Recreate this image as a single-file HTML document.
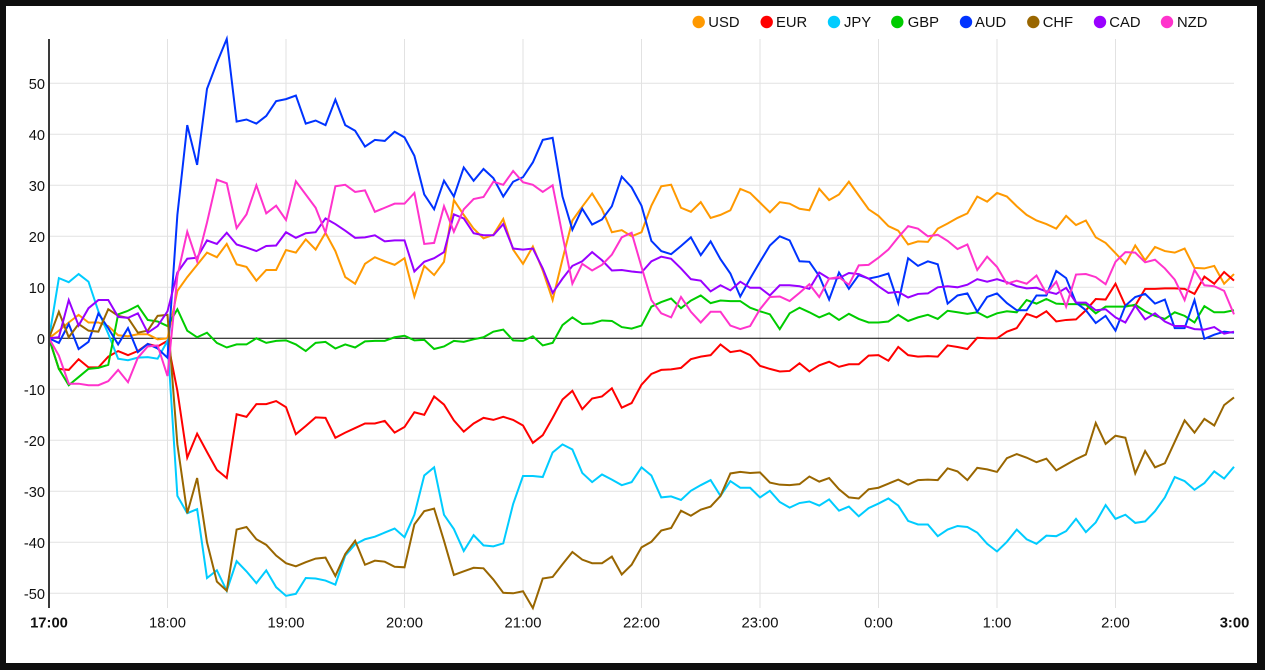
<!DOCTYPE html>
<html>
<head>
<meta charset="utf-8">
<style>
html,body{margin:0;padding:0;background:#0e0e0e;}
svg{display:block;}
text{font-family:"Liberation Sans",Arial,sans-serif;fill:#111;}
</style>
</head>
<body>
<svg width="1265" height="670" viewBox="0 0 1265 670" xmlns="http://www.w3.org/2000/svg">
<rect x="0" y="0" width="1265" height="670" fill="#0e0e0e"/>
<rect x="6" y="6" width="1251" height="657" fill="#ffffff"/>

<!-- horizontal gridlines -->
<g stroke="#e2e2e2" stroke-width="1">
<line x1="49" y1="83.3" x2="1234" y2="83.3"/>
<line x1="49" y1="134.3" x2="1234" y2="134.3"/>
<line x1="49" y1="185.3" x2="1234" y2="185.3"/>
<line x1="49" y1="236.3" x2="1234" y2="236.3"/>
<line x1="49" y1="287.3" x2="1234" y2="287.3"/>
<line x1="49" y1="389.3" x2="1234" y2="389.3"/>
<line x1="49" y1="440.3" x2="1234" y2="440.3"/>
<line x1="49" y1="491.3" x2="1234" y2="491.3"/>
<line x1="49" y1="542.3" x2="1234" y2="542.3"/>
<line x1="49" y1="593.3" x2="1234" y2="593.3"/>
<!-- vertical gridlines -->
<line x1="167.5" y1="39" x2="167.5" y2="608"/>
<line x1="286" y1="39" x2="286" y2="608"/>
<line x1="404.5" y1="39" x2="404.5" y2="608"/>
<line x1="523" y1="39" x2="523" y2="608"/>
<line x1="641.5" y1="39" x2="641.5" y2="608"/>
<line x1="760" y1="39" x2="760" y2="608"/>
<line x1="878.5" y1="39" x2="878.5" y2="608"/>
<line x1="997" y1="39" x2="997" y2="608"/>
<line x1="1115.5" y1="39" x2="1115.5" y2="608"/>
</g>

<!-- zero line -->
<line x1="49" y1="338.3" x2="1234" y2="338.3" stroke="#000" stroke-width="1"/>

<!-- series -->
<g transform="matrix(9.875,0,0,-5.1,49,338.3)" fill="none" stroke-width="2">
<polyline vector-effect="non-scaling-stroke" stroke="#FF9900" points="0,0 1,1.5 2,3.1 3,4.6 4,3.1 5,3.1 6,2.4 7,0.6 8,0.4 9,0.8 10,0.8 11,-0.2 12,0 13,9.3 14,12 15,14.4 16,16.8 17,15.9 18,18.5 19,14.5 20,14 21,11.3 22,13.4 23,13.4 24,17.3 25,16.8 26,19.4 27,17.4 28,20.7 29,17.1 30,12 31,10.7 32,14.6 33,15.9 34,15.1 35,14.4 36,15.7 37,8.2 38,14.2 39,12.4 40,15 41,27.1 42,24.2 43,21.5 44,19.6 45,20.3 46,23.4 47,17.4 48,14.6 49,18 50,13.3 51,7.5 52,15.5 53,23.1 54,25.8 55,28.4 56,25.3 57,20.8 58,21.2 59,20 60,20.8 61,26 62,29.8 63,30.1 64,25.6 65,24.8 66,26.7 67,23.6 68,24.2 69,25.1 70,29.3 71,28.5 72,26.6 73,24.7 74,26.7 75,26.4 76,25.4 77,25.1 78,29.3 79,27.1 80,28.2 81,30.7 82,28 83,25.3 84,24 85,22 86,21.1 87,18.4 88,19 89,18.9 90,21.5 91,22.5 92,23.6 93,24.5 94,27.8 95,26.8 96,28.5 97,27.8 98,25.9 99,24.2 100,23.1 101,22.4 102,21.5 103,24 104,22.2 105,23.1 106,19.8 107,18.7 108,16.7 109,14.6 110,18.2 111,15.3 112,17.9 113,17.1 114,16.8 115,17.6 116,13.8 117,13.7 118,14.2 119,10.7 120,12.6"/>
<polyline vector-effect="non-scaling-stroke" stroke="#FF0000" points="0,0 1,-6 2,-6.2 3,-4.1 4,-5.7 5,-5.7 6,-3.6 7,-2.5 8,-3.3 9,-2.5 10,-1.1 11,-1.6 12,-0.5 13,-10.3 14,-23.4 15,-18.7 16,-22.3 17,-25.8 18,-27.4 19,-14.9 20,-15.4 21,-12.9 22,-12.9 23,-12.3 24,-13.5 25,-18.8 26,-17.2 27,-15.5 28,-15.6 29,-19.5 30,-18.5 31,-17.6 32,-16.7 33,-16.7 34,-16.2 35,-18.5 36,-17.4 37,-14.5 38,-15 39,-11.4 40,-13 41,-16.1 42,-18.3 43,-16.7 44,-15.6 45,-16 46,-15.4 47,-16 48,-17.1 49,-20.5 50,-19 51,-15.6 52,-12 53,-10.3 54,-13.9 55,-11.8 56,-11.4 57,-9.8 58,-13.6 59,-12.7 60,-9.1 61,-7 62,-6.2 63,-6.1 64,-5.8 65,-4.1 66,-3.6 67,-3.3 68,-1.2 69,-2.7 70,-2.4 71,-3.3 72,-5.4 73,-6 74,-6.5 75,-6.4 76,-4.9 77,-6.5 78,-5.3 79,-4.6 80,-5.6 81,-5.1 82,-5.1 83,-3.4 84,-3.3 85,-4.4 86,-1.7 87,-3.3 88,-3.6 89,-3.5 90,-3.6 91,-1.4 92,-1.7 93,-2.1 94,0.1 95,0 96,0 97,1.3 98,2 99,4.8 100,4.1 101,5.3 102,3.3 103,3.6 104,3.7 105,5.5 106,7.7 107,7.6 108,10.7 109,6.4 110,6.4 111,9.7 112,9.7 113,9.8 114,9.8 115,9.7 116,8.7 117,12.1 118,10.7 119,13 120,11.3"/>
<polyline vector-effect="non-scaling-stroke" stroke="#00CCFF" points="0,0 1,11.8 2,11 3,12.6 4,11.1 5,5.3 6,0.9 7,-4 8,-4.3 9,-3.8 10,-3.7 11,-4 12,-0.5 13,-30.9 14,-34.3 15,-33.5 16,-47 17,-45.5 18,-49.5 19,-43.7 20,-45.7 21,-48 22,-45.5 23,-48.8 24,-50.5 25,-50.1 26,-47 27,-47.1 28,-47.5 29,-48.3 30,-42.6 31,-40.4 32,-39.4 33,-38.9 34,-38.1 35,-37.3 36,-39 37,-34.6 38,-26.9 39,-25.3 40,-34.6 41,-37.4 42,-41.7 43,-38.6 44,-40.6 45,-40.8 46,-40.2 47,-32.5 48,-27 49,-27 50,-27.2 51,-22.4 52,-20.8 53,-21.8 54,-26.4 55,-28.2 56,-26.7 57,-27.7 58,-28.8 59,-28.2 60,-25.3 61,-26.9 62,-31.2 63,-31 64,-31.7 65,-29.9 66,-28.8 67,-27.8 68,-30.9 69,-28 70,-29.3 71,-29.3 72,-31.2 73,-29.9 74,-32.1 75,-33.2 76,-32.3 77,-32 78,-32.8 79,-31.6 80,-33.8 81,-33 82,-34.9 83,-33.3 84,-32.4 85,-31.4 86,-32.8 87,-35.8 88,-36.5 89,-36.5 90,-38.8 91,-37.5 92,-36.8 93,-37 94,-38.1 95,-40.3 96,-41.8 97,-39.9 98,-37.5 99,-39.4 100,-40.3 101,-38.7 102,-38.8 103,-37.8 104,-35.4 105,-38 106,-36.1 107,-32.7 108,-35.4 109,-34.6 110,-36.2 111,-35.9 112,-33.9 113,-31.2 114,-27.2 115,-28 116,-29.7 117,-28.4 118,-26.1 119,-27.5 120,-25.2"/>
<polyline vector-effect="non-scaling-stroke" stroke="#00CC00" points="0,0 1,-6 2,-9.2 3,-7.6 4,-6 5,-5.8 6,-5.2 7,4.7 8,5.4 9,6.4 10,3.6 11,3.3 12,2.4 13,5.7 14,1.5 15,0.2 16,1.1 17,-0.9 18,-1.8 19,-1.2 20,-1.2 21,0 22,-0.9 23,-0.5 24,-0.4 25,-1.2 26,-2.5 27,-0.9 28,-0.7 29,-2 30,-1.2 31,-1.8 32,-0.6 33,-0.5 34,-0.5 35,0.2 36,0.5 37,-0.4 38,-0.3 39,-2.1 40,-1.6 41,-0.5 42,-0.7 43,-0.2 44,0.2 45,1.3 46,1.7 47,-0.4 48,-0.5 49,0.4 50,-1.4 51,-0.9 52,2.6 53,4.1 54,2.8 55,2.9 56,3.5 57,3.4 58,2.2 59,1.9 60,2.5 61,6.2 62,7.1 63,7.8 64,5.9 65,7.4 66,8.4 67,6.9 68,7.4 69,7.3 70,7.3 71,6 72,5.3 73,4.7 74,1.8 75,4.9 76,6 77,5.1 78,4.1 79,4.9 80,3.6 81,4.8 82,3.8 83,3.1 84,3.1 85,3.3 86,4.6 87,3.4 88,4.1 89,4.6 90,3.8 91,5.4 92,5.1 93,4.8 94,5.1 95,4.1 96,4.9 97,5.3 98,5.1 99,7.5 100,6.8 101,7.7 102,6.8 103,6.7 104,6.7 105,6.6 106,4.9 107,6.2 108,6.2 109,6.2 110,6.6 111,5.3 112,4.4 113,3.8 114,5.1 115,4.4 116,3.1 117,6.3 118,5.1 119,5.1 120,5.5"/>
<polyline vector-effect="non-scaling-stroke" stroke="#0033FF" points="0,0 1,-0.9 2,2.8 3,-2.1 4,-0.7 5,4.9 6,2 7,-1.2 8,2 9,-2.7 10,-1.1 11,-2 12,-3.8 13,24.2 14,41.8 15,34 16,48.9 17,54 18,58.7 19,42.5 20,42.9 21,42.1 22,43.6 23,46.5 24,46.9 25,47.6 26,42.1 27,42.7 28,41.8 29,46.8 30,41.8 31,40.7 32,37.6 33,38.9 34,38.7 35,40.5 36,39.4 37,35.8 38,28.2 39,25.3 40,30.9 41,27.8 42,33.5 43,30.9 44,33.2 45,31.4 46,27.8 47,30.7 48,31.6 49,34.5 50,38.9 51,39.3 52,27.8 53,21.3 54,25.4 55,22.3 56,23.3 57,25.9 58,31.7 59,29.6 60,26 61,19.1 62,17.1 63,16.5 64,18.1 65,19.8 66,16.3 67,19 68,15.5 69,12.7 70,8.2 71,11.7 72,15 73,18.2 74,20 75,19.2 76,15.1 77,15 78,12.2 79,7.6 80,12.9 81,9.7 82,12.4 83,11.7 84,12.1 85,12.7 86,6.9 87,15.7 88,14.2 89,15.1 90,14.5 91,6.8 92,8.4 93,8.8 94,5.2 95,8.1 96,8.8 97,6.9 98,5.5 99,5.5 100,8.4 101,8.4 102,13.2 103,11.8 104,7 105,5.5 106,3 107,4.4 108,1.5 109,6.4 110,8.1 111,8.7 112,6.8 113,7.6 114,2 115,2 116,7.5 117,-0.1 118,0.7 119,1.3 120,1.1"/>
<polyline vector-effect="non-scaling-stroke" stroke="#996600" points="0,0 1,5.2 2,0.2 3,2.8 4,1.5 5,1.3 6,5.7 7,4.4 8,4 9,1.1 10,1.5 11,4.4 12,4.6 13,-20.8 14,-34.3 15,-27.4 16,-40 17,-47.7 18,-49.5 19,-37.5 20,-37 21,-39.4 22,-40.5 23,-42.6 24,-44.1 25,-44.7 26,-43.9 27,-43.2 28,-43 29,-46.6 30,-42.3 31,-39.7 32,-44.4 33,-43.6 34,-43.8 35,-44.8 36,-44.9 37,-36.5 38,-33.9 39,-33.4 40,-39.7 41,-46.4 42,-45.7 43,-45 44,-45.1 45,-47.3 46,-49.9 47,-50 48,-49.6 49,-52.9 50,-47.1 51,-46.8 52,-44.3 53,-41.9 54,-43.4 55,-44.1 56,-44.1 57,-42.8 58,-46.3 59,-44.4 60,-41 61,-39.9 62,-37.7 63,-37.2 64,-33.8 65,-34.8 66,-33.6 67,-33 68,-30.9 69,-26.5 70,-26.2 71,-26.4 72,-26.3 73,-28.3 74,-28.7 75,-28.8 76,-28.6 77,-27.1 78,-28.1 79,-27.4 80,-29.6 81,-31.2 82,-31.4 83,-29.6 84,-29.3 85,-28.5 86,-27.7 87,-28.7 88,-27.8 89,-27.7 90,-27.8 91,-25.5 92,-26.1 93,-27.8 94,-25.4 95,-25.7 96,-26.2 97,-23.5 98,-22.7 99,-23.4 100,-24.3 101,-23.6 102,-25.9 103,-24.8 104,-23.7 105,-22.8 106,-16.6 107,-20.7 108,-19.1 109,-19.5 110,-26.5 111,-22.1 112,-25.3 113,-24.5 114,-20.3 115,-16.1 116,-18.5 117,-15.8 118,-17.1 119,-13.1 120,-11.6"/>
<polyline vector-effect="non-scaling-stroke" stroke="#9900FF" points="0,0 1,0.2 2,7.5 3,2.5 4,5.9 5,7.5 6,7.5 7,4.2 8,4 9,4.9 10,1.1 11,2.4 12,5.3 13,12.9 14,15.6 15,15.8 16,19.2 17,18.5 18,20.7 19,18.4 20,17.8 21,17.1 22,18.1 23,18.2 24,20.8 25,19.7 26,20.6 27,20.8 28,23.5 29,22.4 30,21.1 31,19.7 32,19.8 33,20.2 34,19 35,19.2 36,19.2 37,13.1 38,15 39,15.7 40,16.9 41,24.3 42,23.5 43,20.6 44,20.2 45,20.2 46,22.4 47,17.6 48,17.4 49,17.6 50,13.7 51,8.9 52,11.7 53,14.2 54,15.1 55,16.9 56,15.3 57,13.3 58,13.4 59,13.1 60,12.9 61,15.1 62,16 63,15.6 64,13.7 65,11.6 66,11.3 67,9.2 68,10.4 69,9.4 70,11.1 71,9.9 72,9.9 73,8.4 74,10.4 75,10.4 76,10.2 77,9.7 78,12.9 79,11.7 80,11.8 81,12.8 82,12.6 83,11.7 84,10.2 85,8.9 86,9.1 87,8 88,8.7 89,8.8 90,10 91,10.2 92,10 93,10.5 94,11.6 95,11.1 96,11.6 97,11 98,10.2 99,9.8 100,9.9 101,9.2 102,8.7 103,9.9 104,7 105,7 106,5.5 107,5.7 108,4.1 109,3.1 110,6.4 111,3.7 112,4.9 113,3.3 114,2.4 115,2.4 116,1.8 117,1.7 118,2.2 119,0.9 120,1.3"/>
<polyline vector-effect="non-scaling-stroke" stroke="#FF33CC" points="0,0 1,-3.4 2,-8.9 3,-8.9 4,-9.2 5,-9.2 6,-8.4 7,-6.2 8,-8.6 9,-3.8 10,-1.6 11,-1.4 12,-7.4 13,12.2 14,20.9 15,15.1 16,22.7 17,31.1 18,30.4 19,21.6 20,24.3 21,30 22,24.5 23,26 24,23.2 25,30.8 26,28.2 27,25.6 28,20.7 29,29.8 30,30.1 31,28.7 32,29 33,24.8 34,25.6 35,26.4 36,26.4 37,28.5 38,18.5 39,18.7 40,25.9 41,20.9 42,25.3 43,27.3 44,27.7 45,30.7 46,30.1 47,32.8 48,30.6 49,30.1 50,28.7 51,30 52,20.2 53,10.7 54,14.6 55,13.3 56,14.4 57,16.4 58,19.8 59,20.7 60,14 61,7.5 62,4.9 63,4.1 64,8.1 65,5.2 66,3.1 67,5.2 68,5.2 69,2.5 70,1.8 71,2.4 72,5.7 73,8.1 74,8.2 75,7.3 76,8.9 77,10.6 78,8.1 79,11.7 80,12 81,10.5 82,14.3 83,14.4 84,15.8 85,17.4 86,19.8 87,22 88,21.5 89,20 90,20.3 91,19.1 92,17.5 93,18.4 94,13.4 95,16 96,14 97,10.7 98,11.3 99,10.7 100,12.3 101,8.8 102,11.1 103,6.2 104,12.5 105,12.6 106,12 107,10.6 108,15 109,16.9 110,16.8 111,14.9 112,15.4 113,13.7 114,11.5 115,7.5 116,13.4 117,10.4 118,10.2 119,9.3 120,4.7"/>
</g>

<!-- left axis -->
<line x1="49" y1="39" x2="49" y2="608" stroke="#3a3a3a" stroke-width="2"/>

<!-- y labels -->
<g font-size="14.6" text-anchor="end">
<text x="45" y="88.8">50</text>
<text x="45" y="139.8">40</text>
<text x="45" y="190.8">30</text>
<text x="45" y="241.8">20</text>
<text x="45" y="292.8">10</text>
<text x="45" y="343.8">0</text>
<text x="45" y="394.8">-10</text>
<text x="45" y="445.8">-20</text>
<text x="45" y="496.8">-30</text>
<text x="45" y="547.8">-40</text>
<text x="45" y="598.8">-50</text>
</g>

<!-- x labels -->
<g font-size="14.8" text-anchor="middle">
<text x="49" y="627.3" font-weight="bold">17:00</text>
<text x="167.5" y="627.3">18:00</text>
<text x="286" y="627.3">19:00</text>
<text x="404.5" y="627.3">20:00</text>
<text x="523" y="627.3">21:00</text>
<text x="641.5" y="627.3">22:00</text>
<text x="760" y="627.3">23:00</text>
<text x="878.5" y="627.3">0:00</text>
<text x="997" y="627.3">1:00</text>
<text x="1115.5" y="627.3">2:00</text>
<text x="1234.5" y="627.3" font-weight="bold">3:00</text>
</g>

<!-- legend -->
<g font-size="14.8">
<circle cx="698.7" cy="22" r="6.2" fill="#FF9900"/><text x="708.3" y="27">USD</text>
<circle cx="766.7" cy="22" r="6.2" fill="#FF0000"/><text x="776" y="27">EUR</text>
<circle cx="834" cy="22" r="6.2" fill="#00CCFF"/><text x="844" y="27">JPY</text>
<circle cx="897.3" cy="22" r="6.2" fill="#00CC00"/><text x="907.7" y="27">GBP</text>
<circle cx="966" cy="22" r="6.2" fill="#0033FF"/><text x="975" y="27">AUD</text>
<circle cx="1033.3" cy="22" r="6.2" fill="#996600"/><text x="1042.7" y="27">CHF</text>
<circle cx="1100" cy="22" r="6.2" fill="#9900FF"/><text x="1109.3" y="27">CAD</text>
<circle cx="1167" cy="22" r="6.2" fill="#FF33CC"/><text x="1177" y="27">NZD</text>
</g>
</svg>
</body>
</html>
